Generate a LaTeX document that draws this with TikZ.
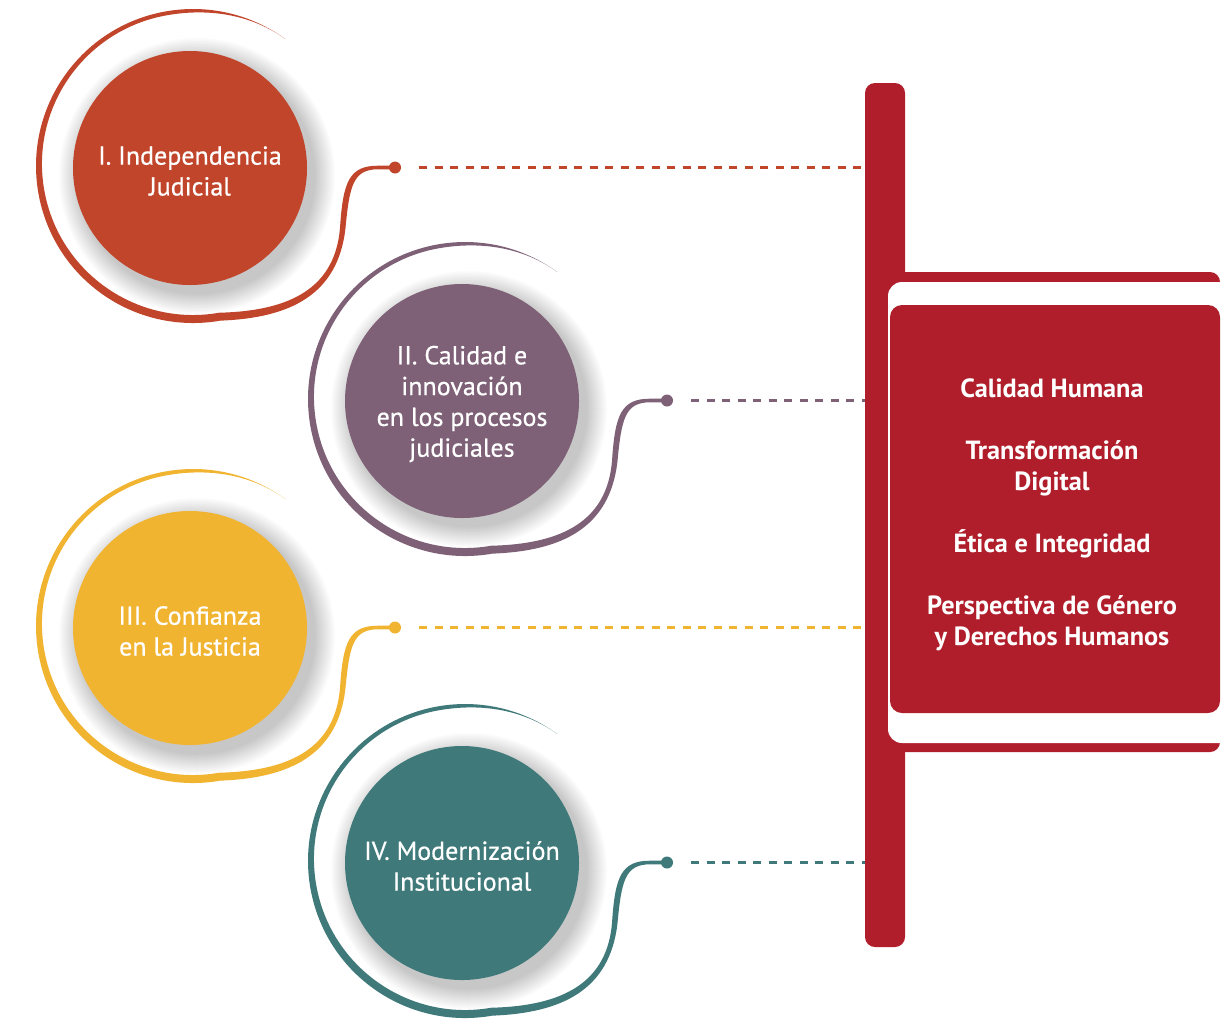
\documentclass[tikz,border=0pt]{standalone}
\usepackage{fontspec}
\setmainfont{PT Sans}
\newfontfamily\circfam[FakeBold=0.6]{PT Sans}
\definecolor{cI}{HTML}{C1452A}
\definecolor{cII}{HTML}{7E6177}
\definecolor{cIII}{HTML}{F1B431}
\definecolor{cIV}{HTML}{3F797A}
\definecolor{panelred}{HTML}{B01E2B}
\newcommand\circfont{\circfam\fontsize{26}{30.8}\selectfont}
\newcommand\panelfont{\fontsize{26.3}{31}\selectfont\bfseries}
\tikzset{
  maincirc/.style={circle, fill=#1, minimum size=234pt, inner sep=0pt},
  circtext/.style={text=white, align=center, font=\circfont, inner sep=0pt},
  enddot/.style={circle, fill=#1, minimum size=12pt, inner sep=0pt},
  dashlink/.style={#1, line width=2.6pt, dash pattern=on 8pt off 7.5pt},
}
\newcommand\pillar[5]{%
\begin{scope}[shift={(#1,#2)}]
  \foreach \k in {1,...,14} \fill[black, opacity=0.015] (197,176) circle[radius=117+1.5*\k];
  \fill[#3] (285.3,39.0) arc[start angle=-54, end angle=-280, radius=157]
    .. controls (290,318) and (338,295) .. (345.5,228)
    .. controls (349.5,186) and (353,169.3) .. (378,169.3) -- (395,169.3)
    -- (395,165.7) -- (378,165.7)
    .. controls (349,165.7) and (343,182) .. (340,228)
    .. controls (335,287) and (292,311) .. (219.2,312.7)
    arc[start angle=-280, end angle=-100, radius=151]
    .. controls (211,7.5) and (252.9,15.5) .. cycle;
  \node[enddot=#3] (d#4) at (395,167.5) {};
  \node[maincirc=#3] (c#4) at (190,168) {};
  \node[circtext] (t#4) at ([yshift=-3pt]c#4.center) {#5};
  \coordinate (s#4) at ([xshift=24pt]d#4.center);
  \draw[dashlink=#3] (s#4) -- (s#4 -| bar.west);
\end{scope}}
\begin{document}
\begin{tikzpicture}[x=1pt, y=-1pt]
\useasboundingbox[fill=white] (0,0) rectangle (1222,1021);
% panel
\node[fill=panelred, rounded corners=10pt, minimum width=40pt, minimum height=864pt, inner sep=0pt] (bar) at (885,515) {};
\fill[panelred, rounded corners=10pt] (880,272) rectangle (1220,752);
\fill[white, rounded corners=14pt] (888,282) rectangle (1262,743);
\node[fill=panelred, rounded corners=12pt, minimum width=330pt, minimum height=408pt, inner sep=0pt] (panel) at (1055,509) {};
\node[text=white, align=center, font=\panelfont] (ptext) at (1052,515)
  {Calidad Humana\\[31pt]Transformación\\Digital\\[31pt]Ética e Integridad\\[31pt]Perspectiva de Género\\y Derechos Humanos};
% pillars
\pillar{0}{0}{cI}{1}{I. Independencia\\Judicial}
\pillar{272}{233}{cII}{2}{II. Calidad e\\innovación\\en los procesos\\judiciales}
\pillar{0}{460}{cIII}{3}{III. Confianza\\en la Justicia}
\pillar{272}{695}{cIV}{4}{IV. Modernización\\Institucional}
\end{tikzpicture}
\end{document}
